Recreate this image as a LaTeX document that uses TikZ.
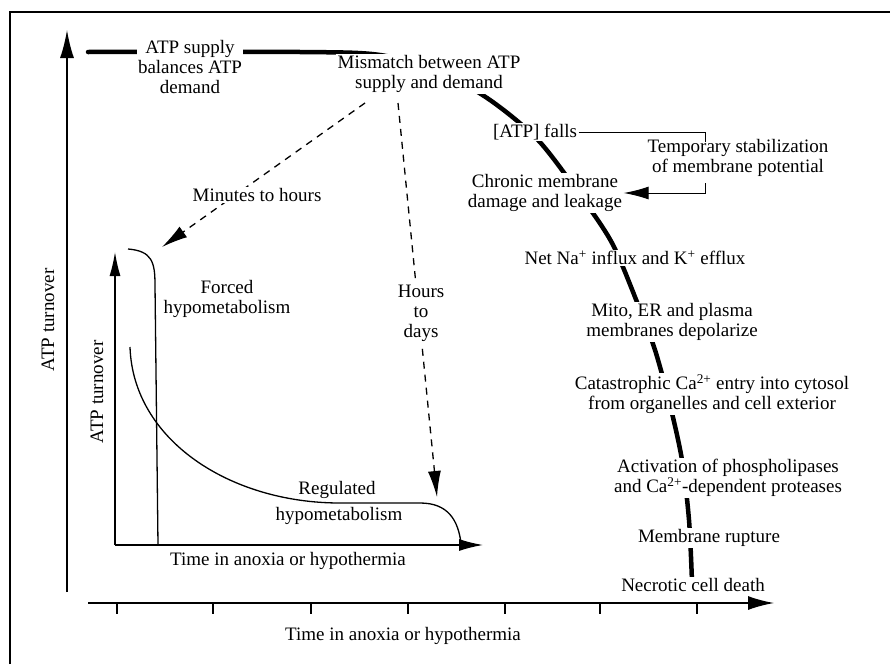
\documentclass[tikz,border=0pt]{standalone}
\usepackage{fontspec}
\setmainfont{Liberation Serif}
\usetikzlibrary{arrows.meta}
\begin{document}
\begin{tikzpicture}[x=1pt,y=-1pt,
  lbl/.style={font=\fontsize{19}{20}\selectfont, align=center, inner sep=1.5pt},
  wlbl/.style={lbl, fill=white},
  axisline/.style={line width=1.6pt},
  inaxis/.style={line width=1.3pt},
  thin/.style={line width=1pt},
  dashline/.style={line width=1.3pt, dash pattern=on 7pt off 6pt},
  bigtip/.style={-{Latex[length=26pt,width=13pt]}},
  midtip/.style={-{Latex[length=24pt,width=11pt]}}
]
\useasboundingbox (0,0) rectangle (890,664);
% frame
\draw[line width=1.5pt] (10,664) -- (10,12) -- (890,12);

% main axes
\coordinate (yo) at (67,592);
\coordinate (yt) at (67,30);
\coordinate (xo) at (88,603);
\coordinate (xt) at (774,603);
\draw[axisline, -{Latex[length=28pt,width=14pt]}] (yo) -- (yt);
\draw[axisline, -{Latex[length=26pt,width=14pt]}] (xo) -- (xt);
\foreach \x in {117,213,311,408,505,600,697} \draw[axisline] (\x,603) -- (\x,614);

% thick main trajectory
\draw[line width=4.5pt, line cap=round] plot[smooth, tension=0.5] coordinates
  {(88,52) (300,52) (380,55) (440,72) (490,100) (538,140) (580,195) (612,243)
   (637,302) (655,350) (670,405) (682,460) (689,520) (692,582)};

% inner graph
\coordinate (io) at (115,545);
\coordinate (iyt) at (115,252);
\coordinate (ixt) at (483,545);
\draw[inaxis, midtip] (io) -- (iyt);
\draw[inaxis, -{Latex[length=24pt,width=12pt]}] (io) -- (ixt);
\draw[inaxis] (128,249) .. controls (152,251) and (155,262) .. (155,285) -- (158,545);
\draw[inaxis] (130,347) .. controls (133,440) and (230,503) .. (340,503) -- (420,503)
  .. controls (448,503) and (458,520) .. (461,543);

% dashed arrows
\coordinate (d1s) at (365,103);
\coordinate (d1e) at (162,247);
\coordinate (d2s) at (398,103);
\coordinate (d2e) at (437,497);
\draw[dashline, bigtip] (d1s) -- (d1e);
\draw[dashline, bigtip] (d2s) -- (d2e);

% bracket feedback
\coordinate (b1) at (705,132);
\coordinate (b2) at (705,142);
\coordinate (b3) at (705,183);

% labels on the main trajectory
\node[wlbl] (supply) at (190,67) {ATP supply\\balances ATP\\demand};
\node[wlbl] (mismatch) at (429,74) {Mismatch between ATP\\supply and demand};
\node[wlbl] (falls) at (535,132) {[ATP] falls};
\node[lbl] (temp) at (738,158) {Temporary stabilization\\of membrane potential};
\node[wlbl] (chronic) at (545,193) {Chronic membrane\\damage and leakage};
\node[wlbl] (netna) at (635,258) {Net Na\textsuperscript{+} influx and K\textsuperscript{+} efflux};
\node[wlbl] (mito) at (672,322) {Mito, ER and plasma\\membranes depolarize};
\node[wlbl] (cata) at (712,394) {Catastrophic Ca\textsuperscript{2+} entry into cytosol\\from organelles and cell exterior};
\node[wlbl] (activ) at (728,478) {Activation of phospholipases\\and Ca\textsuperscript{2+}-dependent proteases};
\node[wlbl] (rupture) at (709,538) {Membrane rupture};
\node[wlbl] (necro) at (693,585) {Necrotic cell death};

\draw[thin] (falls.east) -- (b1) -- (b2);
\draw[thin, -{Latex[length=25pt,width=13pt]}] (b3) |- (chronic.east);

% dashed arrow labels
\node[wlbl] (minutes) at (257,195) {Minutes to hours};
\node[wlbl] (hours) at (421,313) {Hours\\to\\days};

% inner graph labels
\node[lbl] (forced) at (227,299) {Forced\\hypometabolism};
\node[lbl] (reg1) at (337,490) {Regulated};
\node[lbl] (reg2) at (339,516) {hypometabolism};
\node[lbl] (itime) at (288,561) {Time in anoxia or hypothermia};
\node[lbl, rotate=90] (iturn) at (97,392) {ATP turnover};

% main axis labels
\node[lbl, rotate=90] (turn) at (48,320) {ATP turnover};
\node[lbl] (time) at (403,636) {Time in anoxia or hypothermia};
\end{tikzpicture}
\end{document}
